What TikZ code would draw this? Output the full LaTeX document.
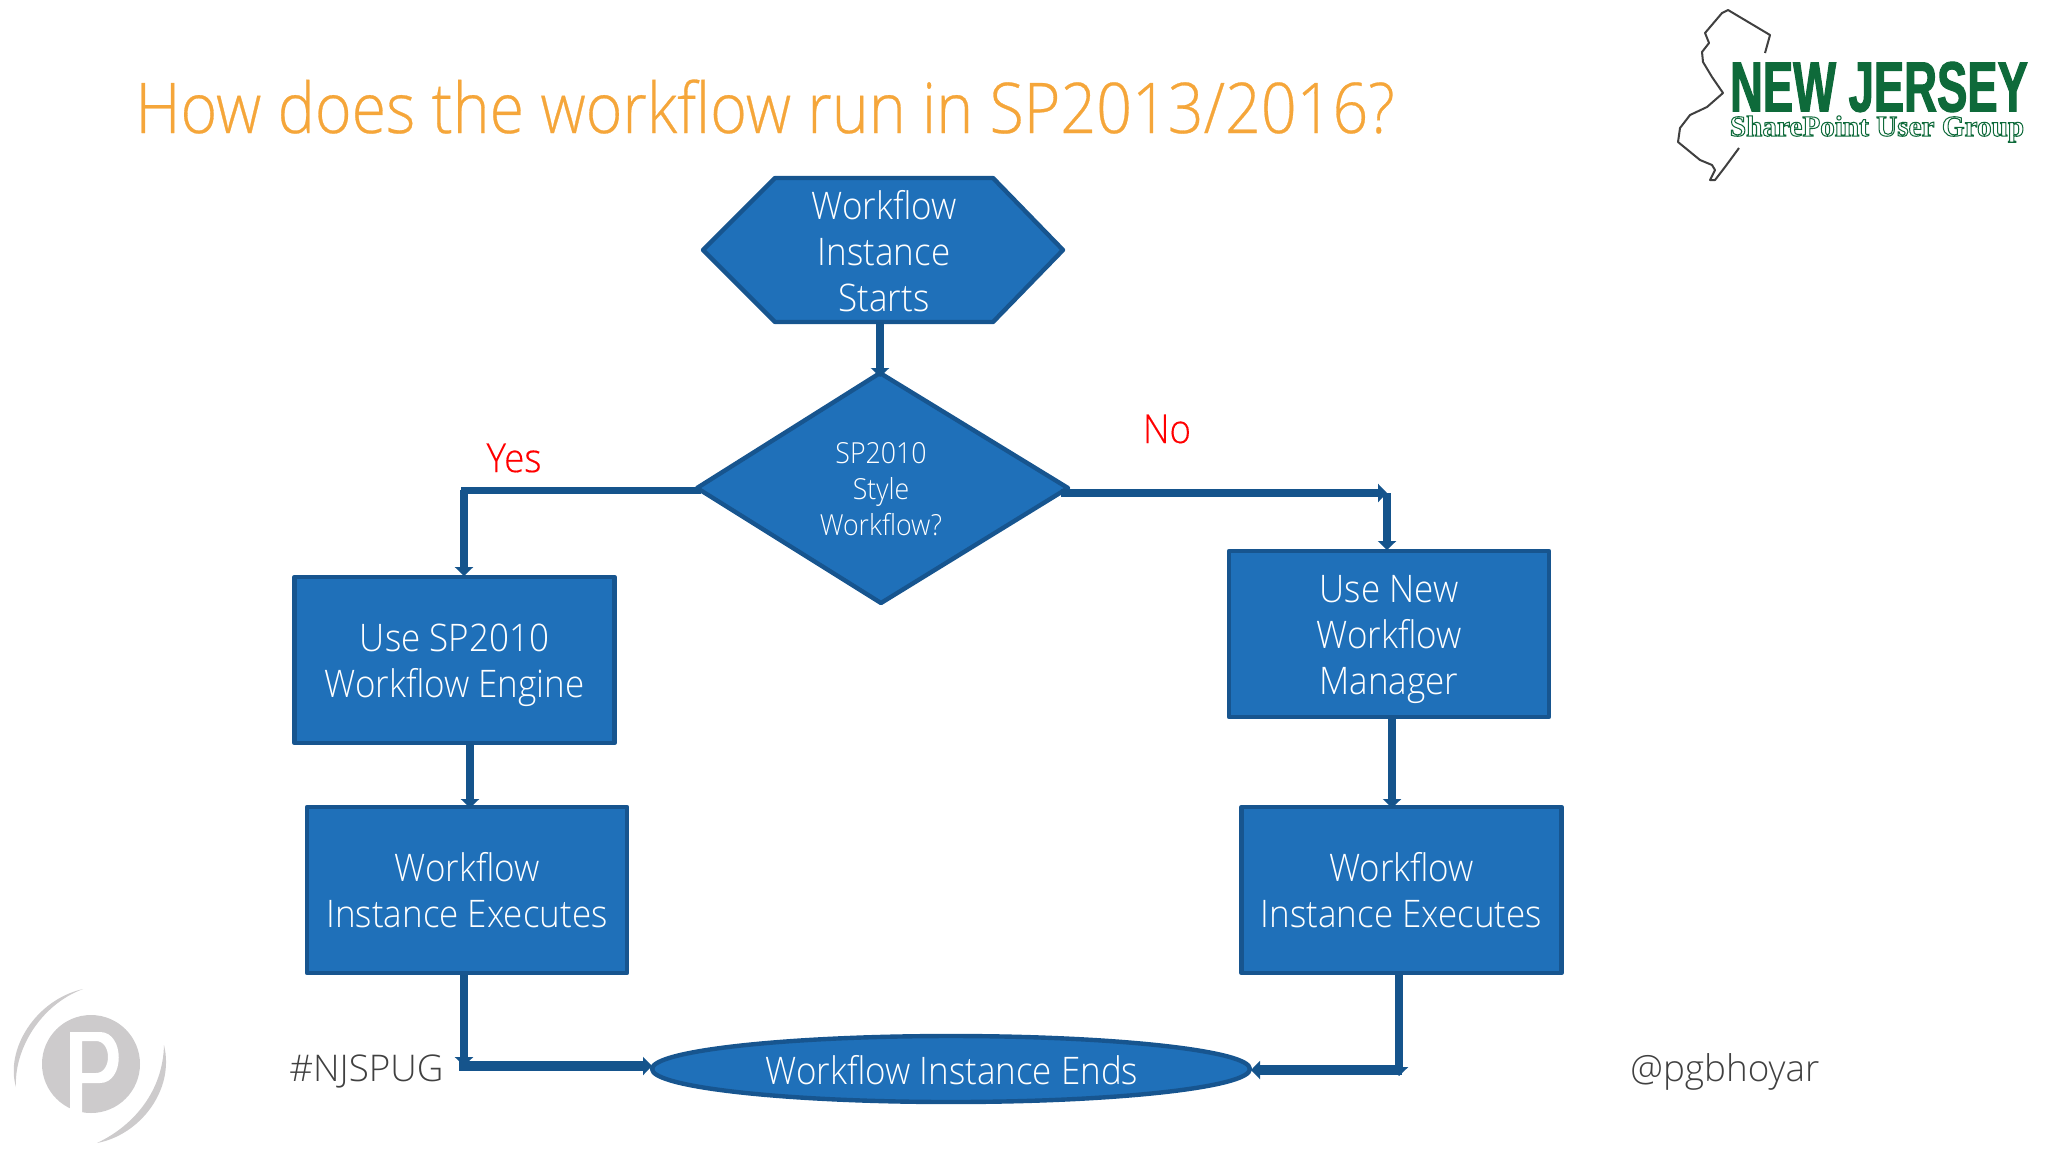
\documentclass[tikz,border=0pt]{standalone}
\usepackage{fontspec}
\setmainfont{Open Sans Light}
\newfontfamily\titlefont{Open Sans Light}[FakeStretch=0.896,FakeBold=0.4]
\newfontfamily\shapefont{Open Sans Light}[FakeStretch=0.92]
\newfontfamily\labelfont{Open Sans Light}[FakeStretch=0.92,FakeBold=0.3]
\newfontfamily\logofont{Liberation Sans Bold}[FakeStretch=0.64,FakeBold=1.5]
\newfontfamily\logoserif{Liberation Serif Bold}[FakeBold=3.5]
\definecolor{boxfill}{HTML}{1F70B9}
\definecolor{boxline}{HTML}{17558F}
\definecolor{wire}{HTML}{15548C}
\definecolor{titlecol}{HTML}{F5A63A}
\definecolor{footcol}{HTML}{404040}
\definecolor{pgray}{HTML}{CDCBCC}
\definecolor{njgreen}{HTML}{0E6A3A}
\usetikzlibrary{arrows.meta}
\tikzset{
  shapebox/.style={draw=boxline,fill=boxfill,line width=2.2pt,line join=round},
  boxtext/.style={text=white,align=center,font=\shapefont\fontsize{19}{23}\selectfont},
  wirearrow/.style={draw=wire,line width=3.7pt,-{Triangle[length=4.5pt,width=9pt]}},
  wirebare/.style={draw=wire,line width=3.5pt,line cap=rect}
}
\begin{document}
\begin{tikzpicture}[x=0.5pt,y=-0.5pt]
\useasboundingbox (0,0) rectangle (2048,1152);
% connectors
\coordinate (yesturn) at (464,490);
\coordinate (noturn) at (1387,493);
\coordinate (leftturn) at (464,1066);
\coordinate (rightturn) at (1399,1070);
% hexagon
\path[shapebox] (703,250) -- (775,178) -- (993,178) -- (1063,250) -- (993,322) -- (775,322) -- cycle;
\node[boxtext] (start) at (884,251) {Workflow\\Instance\\Starts};
\path[shapebox] (880,373) -- (1068,488) -- (881,603) -- (697,488) -- cycle;
\node[boxtext,font=\shapefont\fontsize{14.5}{18}\selectfont] (decide) at (881,489) {SP2010\\Style\\Workflow?};
\node[shapebox,minimum width=160pt,minimum height=83pt,inner sep=0pt,rectangle] (engine) at (454.5,660) {};
\node[boxtext] at ([yshift=-2.5pt]engine.center) {Use SP2010\\Workflow Engine};
\node[shapebox,minimum width=160pt,minimum height=83pt,inner sep=0pt,rectangle] (execL) at (467,890) {};
\node[boxtext] at (execL) {Workflow\\Instance Executes};
\node[shapebox,minimum width=160pt,minimum height=83pt,inner sep=0pt,rectangle] (manager) at (1389,634) {};
\node[boxtext] at ([yshift=-2.5pt]manager.center) {Use New\\Workflow\\Manager};
\node[shapebox,minimum width=160pt,minimum height=83pt,inner sep=0pt,rectangle] (execR) at (1401.5,890) {};
\node[boxtext] at (execR) {Workflow\\Instance Executes};
\path[shapebox] (951,1069) ellipse [x radius=299,y radius=33];
\node[boxtext] (finish) at (952,1070) {Workflow Instance Ends};
% wires
\draw[wirearrow] (880,322) -- (880,377);
\draw[wirebare] (697,490) -- (yesturn) -- (464,560);
\draw[wirearrow] (464,490) -- (464,576);
\draw[wirearrow] (470,744) -- (470,808);
\draw[wirearrow] (1061,493) -- (noturn);
\draw[wirearrow] (noturn) -- (1387,550);
\draw[wirearrow] (1392,719) -- (1392,808);
\draw[wirearrow] (464,975) -- (leftturn);
\draw[wirearrow,line width=4.8pt] (459,1066) -- (652,1066);
\draw[wirearrow] (1399,975) -- (1399,1076);
\draw[wirearrow,line width=4.8pt] (1402,1070) -- (1251,1070);
% labels
\node[text=red,font=\labelfont\fontsize{20}{20}\selectfont] (yes) at (514,458) {Yes};
\node[text=red,font=\labelfont\fontsize{20}{20}\selectfont] (no) at (1167,429) {No};
\node[text=titlecol,anchor=base west,inner sep=0pt,font=\titlefont\fontsize{35}{36}\selectfont] (title) at (135,133) {How does the workflow run in SP2013/2016?};
\node[text=footcol,anchor=base west,inner sep=0pt,font=\fontsize{18.4}{20}\selectfont] (tag) at (289,1081) {\#NJSPUG};
\node[text=footcol,anchor=base west,inner sep=0pt,font=\fontsize{18.4}{20}\selectfont] (handle) at (1630,1081) {@pgbhoyar};
% NJ logo
\draw[black!75,line width=1pt,line join=round] (1765,53) -- (1770,35) -- (1728,10) -- (1722,13) -- (1705,33) -- (1709,43) -- (1702,52) -- (1703,62) -- (1712,77) -- (1723,93) -- (1707,107) -- (1690,115) -- (1680,128) -- (1678,142) -- (1700,160) -- (1712,165) -- (1715,170) -- (1710,180) -- (1715,180) -- (1725,167) -- (1739,148);
\node[text=njgreen,inner sep=0pt,font=\logofont\fontsize{35.5}{35.5}\selectfont] (nj) at (1879,87) {NEW JERSEY};
\node[text=njgreen,inner sep=0pt,font=\logoserif\fontsize{14.6}{14.6}\selectfont] (spug) at (1877,129) {\special{pdf:code 1 1 1 rg}SharePoint User Group};
% P mark
\fill[pgray] (91,1064) circle [x radius=49,y radius=49];
\fill[white,even odd rule] (70,1114) -- (70,1032) -- (100,1032) .. controls (125,1032) and (125,1083) .. (100,1083) -- (82,1083) -- (82,1114) -- cycle
  (82,1041) -- (82,1073) -- (96,1073) .. controls (112,1073) and (112,1041) .. (96,1041) -- cycle;
\fill[pgray] (83,989) .. controls (35,1000) and (5,1050) .. (16,1087) .. controls (14,1050) and (40,1005) .. (83,989) -- cycle;
\fill[pgray] (164,1045) .. controls (175,1090) and (140,1135) .. (97,1143) .. controls (135,1125) and (163,1090) .. (164,1045) -- cycle;
\end{tikzpicture}
\end{document}
